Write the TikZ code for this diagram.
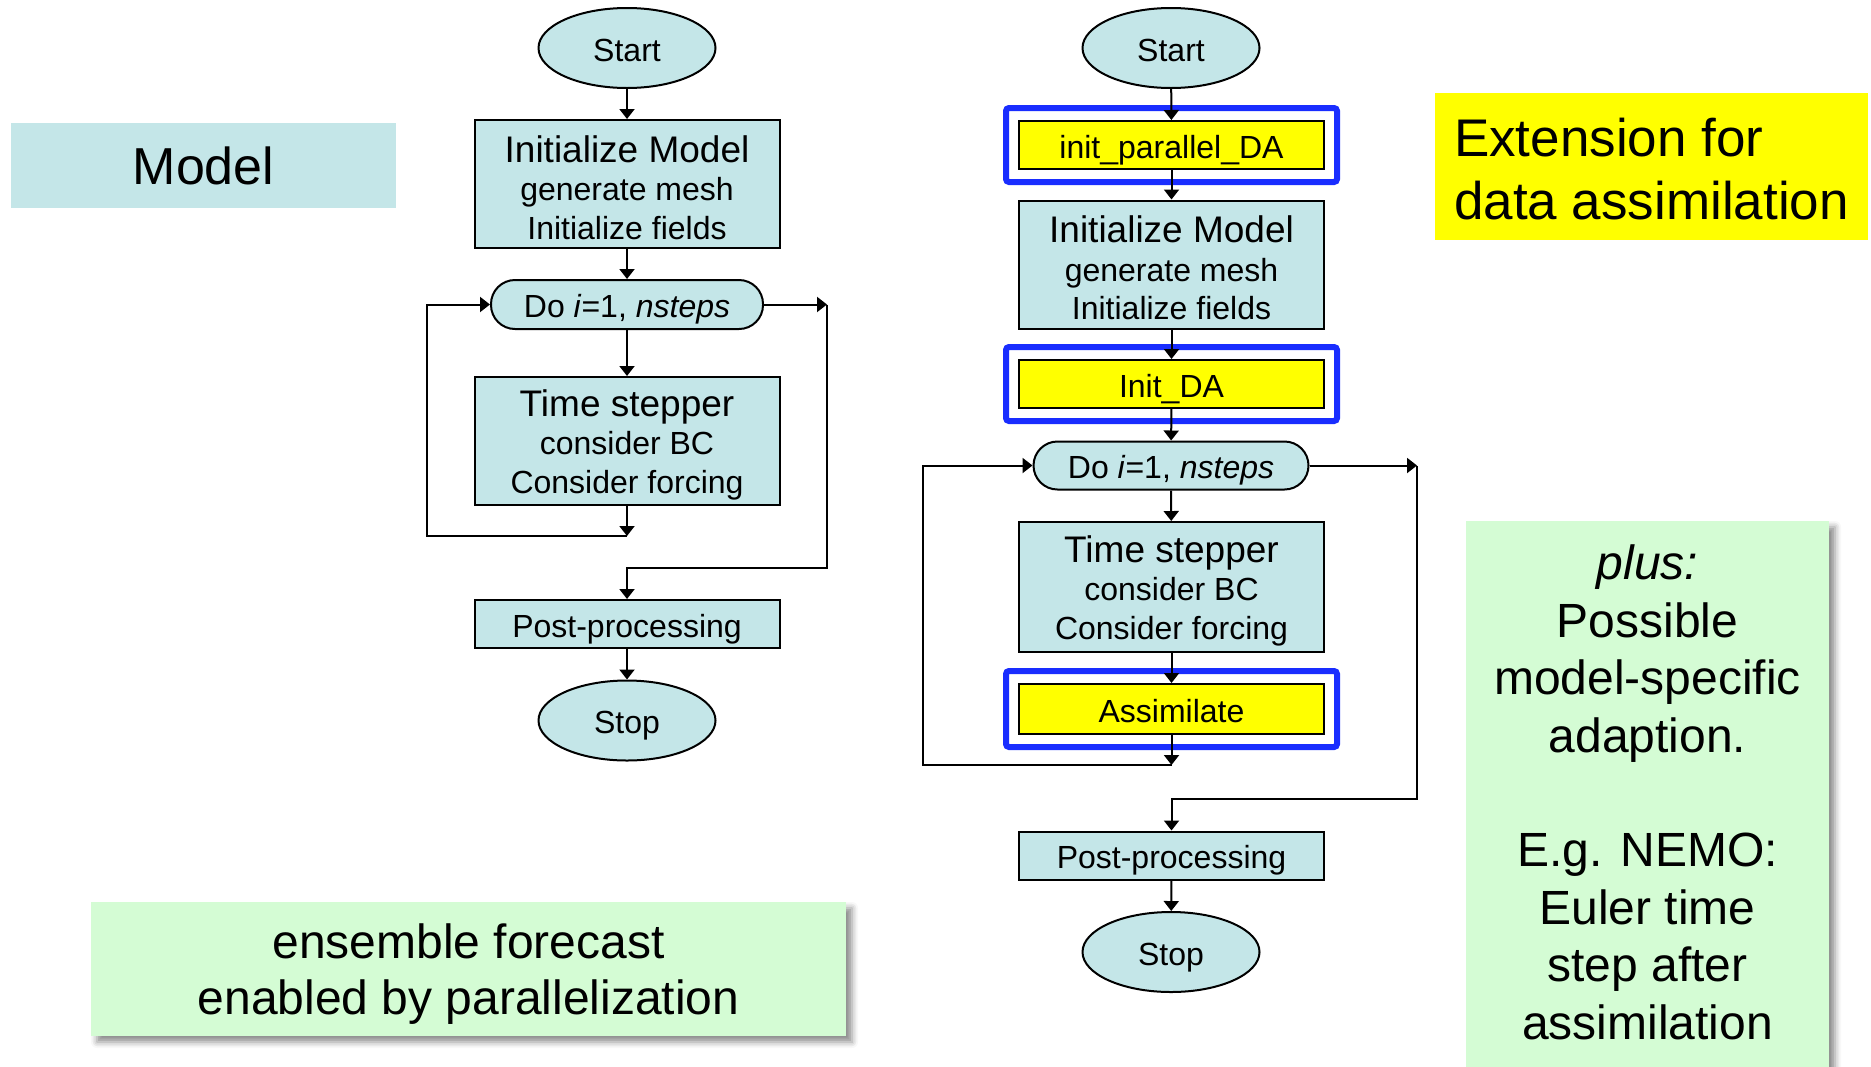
\documentclass[tikz,border=0pt]{standalone}
\usepackage{fontspec}
\setmainfont{Liberation Sans}
\usetikzlibrary{arrows.meta,shapes.geometric,fit,shadows.blur}
\definecolor{boxblue}{RGB}{196,230,232}
\definecolor{noteGreen}{RGB}{212,252,212}
\definecolor{frameblue}{RGB}{25,45,255}
\definecolor{hiYellow}{RGB}{255,255,0}
% invisible struts that set the height of a first line or the depth of a last line
\newcommand{\topstrut}[1]{\rule{0pt}{#1}}
\newcommand{\botstrut}[1]{\rule[-#1]{0pt}{#1}}
\begin{document}
\begin{tikzpicture}[x=0.5pt,y=-0.5pt,
  arr/.style={-{Triangle[length=5pt,width=7.5pt]}, line width=1pt},
  oneline/.style={text height=14.7pt, text depth=1.3pt},
  term/.style={ellipse, draw, line width=1pt, fill=boxblue, inner sep=0pt, oneline,
    minimum width=88.5pt, minimum height=40pt, font=\fontsize{16}{19}\selectfont},
  proc/.style={rectangle, draw, line width=1pt, fill=boxblue, inner sep=0pt,
    minimum width=152.5pt, minimum height=24pt, align=center,
    font=\fontsize{16}{19.2}\selectfont},
  bigproc/.style={proc, minimum height=64pt},
  daproc/.style={proc, oneline, fill=hiYellow},
  loophead/.style={rectangle, rounded corners=12pt, draw, line width=1pt, fill=boxblue,
    inner sep=0pt, oneline, minimum width=136pt, minimum height=24.5pt,
    font=\fontsize{16}{19}\selectfont},
  daframe/.style={draw=frameblue, line width=3pt, inner sep=6pt, rounded corners=1.5pt},
  note/.style={rectangle, fill=noteGreen, inner sep=0pt, align=center,
    blur shadow={shadow xshift=3pt, shadow yshift=-3pt, shadow blur radius=3pt, shadow opacity=45},
    font=\fontsize{24}{28}\selectfont}
]
\useasboundingbox (0,0) rectangle (1871,1066);

% ---- labels ----
\node[rectangle, fill=boxblue, minimum width=192.5pt, minimum height=42.5pt,
  font=\fontsize{26}{31}\selectfont] (model) at (203.5,165.5) {Model};
\node[rectangle, fill=hiYellow, minimum width=216.5pt, minimum height=73.5pt, align=left,
  font=\fontsize{26.5}{31.5}\selectfont] (ext) at (1651.5,166.5)
  {\topstrut{21.7pt}Extension for\\data assimilation};
\node[note, minimum width=377.5pt, minimum height=67pt] (ens) at (468.5,969)
  {\topstrut{22.5pt}ensemble forecast\\enabled by parallelization};
\node[note, minimum width=181.5pt, minimum height=277pt, font=\fontsize{24}{28.7}\selectfont]
  (plus) at (1647.5,798) {\textit{plus:}\\Possible\\model-specific\\adaption.\\[28.7pt]E.g. NEMO:\\Euler time\\step after\\assimilation\botstrut{6pt}};

% ---- plain model ----
\node[term] (startL) at (627,48) {Start};
\node[bigproc] (initL) at (627,184) {{\fontsize{18.5}{22}\selectfont\topstrut{17pt}Initialize Model}\\generate mesh\\Initialize fields};
\node[loophead] (doL) at (627,304.5) {Do \textit{i}=1, \textit{nsteps}};
\node[bigproc] (tsL) at (627,441) {{\fontsize{18.5}{22}\selectfont\topstrut{17pt}Time stepper}\\consider BC\\Consider forcing};
\node[proc, oneline] (ppL) at (627,624) {Post-processing};
\node[term] (stopL) at (627,720.5) {Stop};
\coordinate (jL) at (627,536);
\coordinate (cL) at (427,536);
\coordinate (rL) at (827,304.5);
\coordinate (kL) at (627,568);

% ---- model with data assimilation ----
\node[term] (startR) at (1171,48) {Start};
\node[daproc] (ipda) at (1171.5,145) {init\_parallel\_DA};
\node[bigproc] (initR) at (1171.5,264.5) {{\fontsize{18.5}{22}\selectfont\topstrut{17pt}Initialize Model}\\generate mesh\\Initialize fields};
\node[daproc] (ida) at (1171.5,384) {Init\_DA};
\node[loophead, minimum width=137.5pt, minimum height=24pt] (doR) at (1171,465.5) {Do \textit{i}=1, \textit{nsteps}};
\node[bigproc, minimum height=65pt] (tsR) at (1171.5,587) {{\fontsize{18.5}{22}\selectfont\topstrut{17pt}Time stepper}\\consider BC\\Consider forcing};
\node[daproc, minimum height=25pt] (assim) at (1171.5,709) {Assimilate};
\node[proc, oneline] (ppR) at (1171.5,855.5) {Post-processing};
\node[term] (stopR) at (1171,952) {Stop};
\coordinate (jR) at (1171.5,765);
\coordinate (cR) at (923,765);
\coordinate (rR) at (1417,465.5);
\coordinate (kR) at (1171.5,799);

\node[daframe, fit=(ipda)] (fr1) {};
\node[daframe, fit=(ida)] (fr2) {};
\node[daframe, fit=(assim)] (fr3) {};

% ---- connectors, plain model ----
\draw[arr] (startL) -- (initL);
\draw[arr] (initL) -- (doL);
\draw[arr] (doL) -- (tsL);
\draw[arr] (tsL) -- (jL);
\draw[arr] (jL) -- (cL) |- (doL.west);
\draw[arr] (doL.east) -- (rL);
\draw[arr] (rL) |- (kL) -- (ppL);
\draw[arr] (ppL) -- (stopL);

% ---- connectors, data assimilation ----
\draw[arr] (startR) -- (ipda);
\draw[arr] (ipda) -- (initR);
\draw[arr] (initR) -- (ida);
\draw[arr] (ida) -- (doR);
\draw[arr] (doR) -- (tsR);
\draw[arr] (tsR) -- (assim);
\draw[arr] (assim) -- (jR);
\draw[arr] (jR) -- (cR) |- (doR.west);
\draw[arr] (doR.east) -- (rR);
\draw[arr] (rR) |- (kR) -- (ppR);
\draw[arr] (ppR) -- (stopR);
\end{tikzpicture}
\end{document}
